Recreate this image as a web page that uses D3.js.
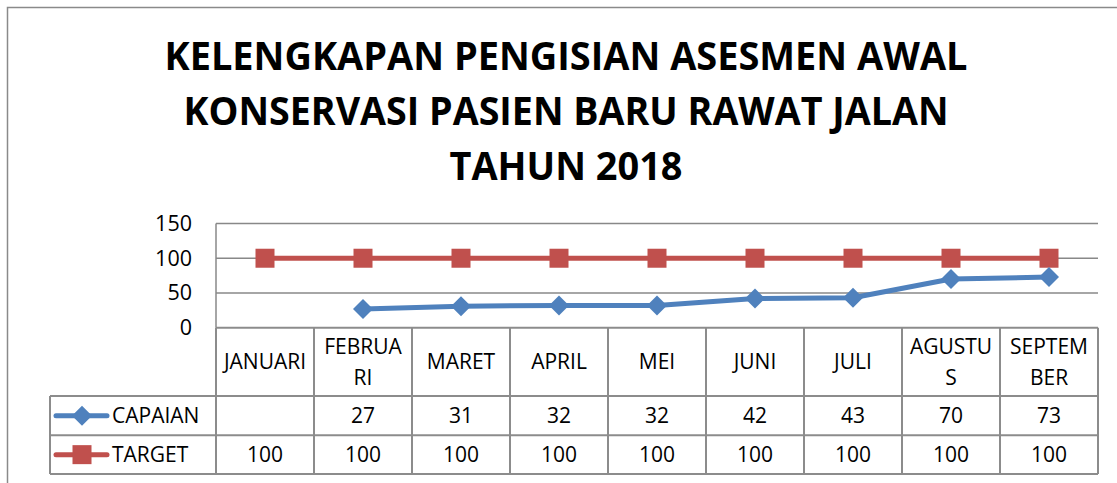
<!DOCTYPE html>
<html><head><meta charset="utf-8">
<script src="https://cdn.jsdelivr.net/npm/d3@7"></script>
<style>
html,body{margin:0;padding:0;background:#fff;}
svg{display:block;font-family:"Open Sans",sans-serif;}
</style></head>
<body>
<svg id="chart" width="1117" height="483"></svg>
<script>
const titleLines = ["KELENGKAPAN PENGISIAN ASESMEN AWAL", "KONSERVASI PASIEN BARU RAWAT JALAN", "TAHUN 2018"];
const categories = ["JANUARI", "FEBRUARI", "MARET", "APRIL", "MEI", "JUNI", "JULI", "AGUSTUS", "SEPTEMBER"];
const categoryLabels = [["JANUARI"], ["FEBRUA", "RI"], ["MARET"], ["APRIL"], ["MEI"], ["JUNI"], ["JULI"], ["AGUSTU", "S"], ["SEPTEM", "BER"]];
const capaian = [null, 27, 31, 32, 32, 42, 43, 70, 73];
const target = [100, 100, 100, 100, 100, 100, 100, 100, 100];
const yTicks = [0, 50, 100, 150];
const seriesNames = ["CAPAIAN", "TARGET"];

(function () {
const svg = d3.select("#chart");
const blue = "#4F81BD", red = "#C0504D", grid = "#888888", border = "#8c8c8c";

svg.append("rect").attr("x", 7.5).attr("y", 7.5).attr("width", 1130).attr("height", 500)
  .attr("fill", "none").attr("stroke", "#8a8a8a").attr("stroke-width", 1.5);

const titleW = [803, 765, 233];
titleLines.forEach((t, i) => {
  svg.append("text").attr("x", 566).attr("y", 70 + i * 55)
    .attr("text-anchor", "middle").attr("font-weight", "bold").attr("font-size", 39)
    .attr("textLength", titleW[i]).attr("lengthAdjust", "spacingAndGlyphs")
    .attr("fill", "#000").text(t);
});

const pLeft = 216, pRight = 1098, pTop = 223.5, zeroY = 327.7;
const x = d3.scaleBand().domain(categories).range([pLeft, pRight]);
const y = d3.scaleLinear().domain([0, 150]).range([zeroY, pTop]);

svg.append("g").selectAll("line").data(yTicks.filter(d => d > 0)).join("line")
  .attr("x1", pLeft).attr("x2", pRight).attr("y1", d => y(d)).attr("y2", d => y(d))
  .attr("stroke", grid).attr("stroke-width", 1.5);

const yAxis = d3.axisLeft(y).tickValues(yTicks).tickSize(0).tickPadding(24);
const ya = svg.append("g").attr("transform", `translate(${pLeft},0)`).call(yAxis);
ya.select(".domain").remove();
ya.selectAll("text").attr("font-size", 21.5).attr("font-family", "Open Sans").attr("fill", "#000");

svg.append("line").attr("x1", pLeft).attr("x2", pLeft).attr("y1", pTop).attr("y2", zeroY)
  .attr("stroke", grid).attr("stroke-width", 1.5);

const row0 = zeroY, row1 = 396, row2 = 435.3, row3 = 474, legL = 50;
const tb = svg.append("g").attr("stroke", border).attr("stroke-width", 2).attr("fill", "none");
tb.append("line").attr("x1", pLeft).attr("x2", pRight).attr("y1", row0).attr("y2", row0);
tb.append("line").attr("x1", legL).attr("x2", pRight).attr("y1", row1).attr("y2", row1);
tb.append("line").attr("x1", legL).attr("x2", pRight).attr("y1", row2).attr("y2", row2);
tb.append("line").attr("x1", legL).attr("x2", pRight).attr("y1", row3).attr("y2", row3);
tb.append("line").attr("x1", legL).attr("x2", legL).attr("y1", row1).attr("y2", row3);
const bounds = categories.map(c => x(c)).concat([pRight]);
tb.selectAll("line.v").data(bounds).join("line").attr("class", "v")
  .attr("x1", d => d).attr("x2", d => d).attr("y1", row0).attr("y2", row3);

const fs = 21;
categories.forEach((c, i) => {
  const lines = categoryLabels[i];
  const cx = x(c) + x.bandwidth() / 2;
  const cy = (row0 + row1) / 2;
  lines.forEach((l, j) => {
    const off = lines.length === 1 ? 0 : (j === 0 ? -15.5 : 15.5);
    svg.append("text").attr("x", cx).attr("y", cy + off).attr("dy", "0.36em")
      .attr("text-anchor", "middle").attr("font-size", fs).attr("fill", "#000").text(l);
  });
});
[capaian, target].forEach((arr, r) => {
  const cy = r === 0 ? (row1 + row2) / 2 : (row2 + row3) / 2;
  arr.forEach((v, i) => {
    if (v == null) return;
    svg.append("text").attr("x", x(categories[i]) + x.bandwidth() / 2).attr("y", cy).attr("dy", "0.36em")
      .attr("text-anchor", "middle").attr("font-size", fs).attr("fill", "#000").text(v);
  });
});

[[blue, "diamond"], [red, "square"]].forEach(([col, shape], r) => {
  const cy = r === 0 ? (row1 + row2) / 2 : (row2 + row3) / 2;
  svg.append("line").attr("x1", 56).attr("x2", 107).attr("y1", cy).attr("y2", cy)
    .attr("stroke", col).attr("stroke-width", 5).attr("stroke-linecap", "round");
  if (shape === "square") {
    svg.append("rect").attr("x", 82 - 9.5).attr("y", cy - 9.5).attr("width", 19).attr("height", 19).attr("fill", col);
  } else {
    svg.append("path").attr("d", "M0,-10L10,0L0,10L-10,0Z").attr("transform", `translate(82,${cy})`).attr("fill", col);
  }
  svg.append("text").attr("x", 112).attr("y", cy).attr("dy", "0.36em")
    .attr("font-size", fs).attr("fill", "#000").text(seriesNames[r]);
});

const cxf = i => x(categories[i]) + x.bandwidth() / 2;
const line = d3.line().defined(d => d != null).x((d, i) => cxf(i)).y(d => y(d));
svg.append("path").attr("d", line(target)).attr("fill", "none").attr("stroke", red).attr("stroke-width", 5);
svg.append("path").attr("d", line(capaian)).attr("fill", "none").attr("stroke", blue).attr("stroke-width", 5).attr("stroke-linejoin", "round");

svg.append("g").selectAll("rect").data(target).join("rect")
  .attr("x", (d, i) => cxf(i) - 9.5).attr("y", d => y(d) - 9.5)
  .attr("width", 19).attr("height", 19).attr("fill", red);
svg.append("g").selectAll("path").data(capaian.map((v, i) => ({v, i})).filter(d => d.v != null)).join("path")
  .attr("d", "M0,-10L10,0L0,10L-10,0Z")
  .attr("transform", d => `translate(${cxf(d.i)},${y(d.v)})`).attr("fill", blue);
})();
</script>
</body></html>
